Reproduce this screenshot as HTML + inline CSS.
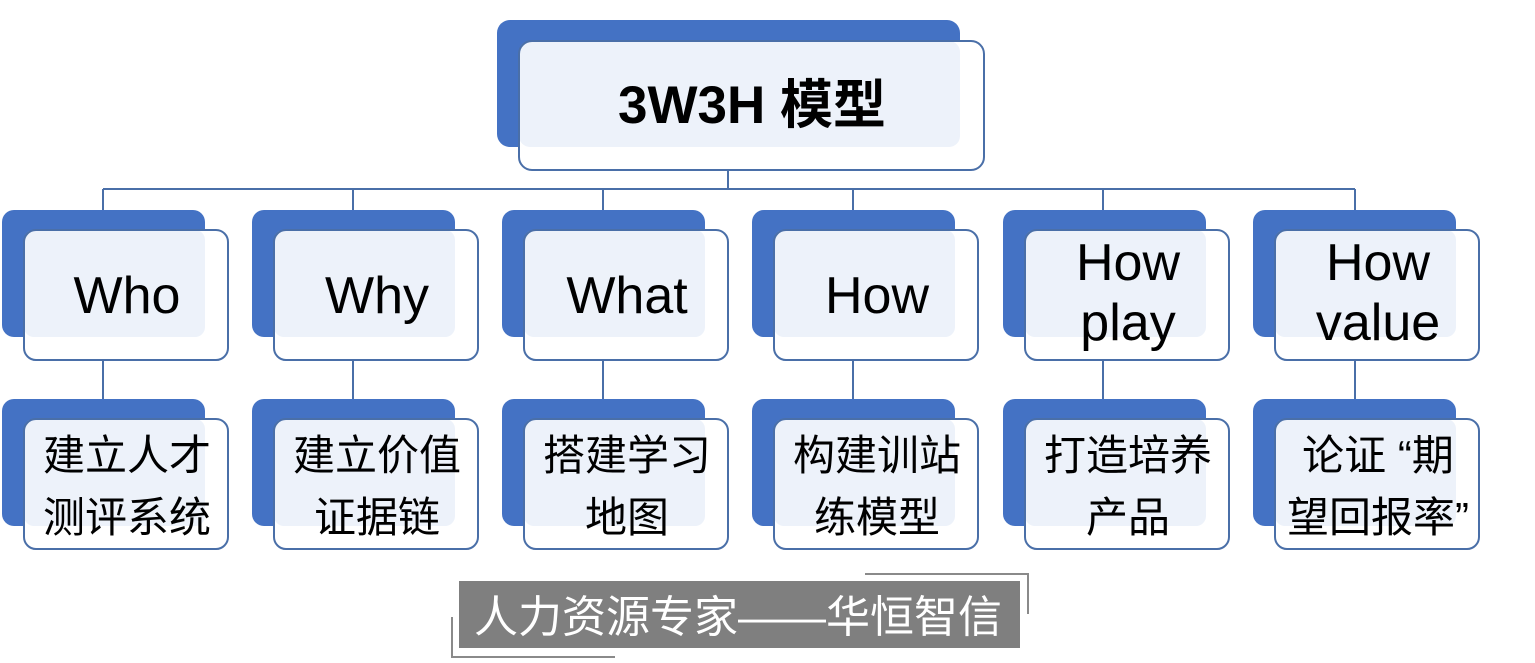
<!DOCTYPE html>
<html><head><meta charset="utf-8"><style>
html,body{margin:0;padding:0;background:#fff;width:1535px;height:663px;overflow:hidden}
svg text{font-family:"Liberation Sans","Noto Sans CJK SC",sans-serif;fill:#000}
</style></head><body>
<svg width="1535" height="663" viewBox="0 0 1535 663" xmlns="http://www.w3.org/2000/svg">
<g stroke="#4A6FA8" stroke-width="2" fill="none">
<line x1="728" y1="170" x2="728" y2="189"/>
<line x1="103" y1="189" x2="1355" y2="189"/>
<line x1="103" y1="189" x2="103" y2="210"/>
<line x1="353" y1="189" x2="353" y2="210"/>
<line x1="603" y1="189" x2="603" y2="210"/>
<line x1="853" y1="189" x2="853" y2="210"/>
<line x1="1103" y1="189" x2="1103" y2="210"/>
<line x1="1355" y1="189" x2="1355" y2="210"/>
<line x1="103" y1="360" x2="103" y2="399"/>
<line x1="353" y1="360" x2="353" y2="399"/>
<line x1="603" y1="360" x2="603" y2="399"/>
<line x1="853" y1="360" x2="853" y2="399"/>
<line x1="1103" y1="360" x2="1103" y2="399"/>
<line x1="1355" y1="360" x2="1355" y2="399"/>
</g>
<rect x="497" y="20" width="463" height="127" rx="13" fill="#4472C4"/>
<rect x="519" y="41" width="465" height="129" rx="13" fill="#fff"/>
<rect x="519" y="41" width="441" height="106" rx="11" fill="#EDF2FA"/>
<rect x="519" y="41" width="465" height="129" rx="13" fill="none" stroke="#4A6FA8" stroke-width="2"/>
<text x="752" y="123" font-size="53" font-weight="bold" text-anchor="middle">3W3H 模型</text>

<g id="boxes">
</g>
<script>
(function(){
var g=document.getElementById('boxes'),ns='http://www.w3.org/2000/svg';
var xs=[2,252,502,752,1003,1253];
var top=[["Who"],["Why"],["What"],["How"],["How","play"],["How","value"]];
var bot=[["建立人才","测评系统"],["建立价值","证据链"],["搭建学习","地图"],["构建训站","练模型"],["打造培养","产品"],["论证 “期","望回报率”"]];
function el(t,a,p){var e=document.createElementNS(ns,t);for(var k in a)e.setAttribute(k,a[k]);(p||g).appendChild(e);return e;}
function box(x,y){
el('rect',{x:x,y:y,width:203,height:127,rx:12,fill:'#4472C4'});
el('rect',{x:x+22,y:y+20,width:204,height:130,rx:12,fill:'#fff'});
el('rect',{x:x+22,y:y+20,width:181,height:107,rx:10,fill:'#EDF2FA'});
el('rect',{x:x+22,y:y+20,width:204,height:130,rx:12,fill:'none',stroke:'#4A6FA8','stroke-width':2});
}
xs.forEach(function(x,i){
box(x,210);box(x,399);
var cx=x+125;
var t=top[i];
if(t.length==1){var e=el('text',{x:cx,y:313,'font-size':52,'text-anchor':'middle'});e.textContent=t[0];}
else{t.forEach(function(s,j){var e=el('text',{x:cx,y:280+j*60,'font-size':52,'text-anchor':'middle'});e.textContent=s;});}
bot[i].forEach(function(s,j){var e=el('text',{x:cx,y:470+j*62,'font-size':42,'text-anchor':'middle'});e.textContent=s;});
});
})();
</script>
<rect x="459" y="581" width="561" height="67" fill="#7F7F7F"/>
<text x="738" y="632" font-size="44" text-anchor="middle" style="fill:#fff">人力资源专家——华恒智信</text>
<polyline points="865,574 1028,574 1028,614" fill="none" stroke="#8a8a8a" stroke-width="2"/>
<polyline points="452,617 452,657 615,657" fill="none" stroke="#8a8a8a" stroke-width="2"/>
</svg>
</body></html>
